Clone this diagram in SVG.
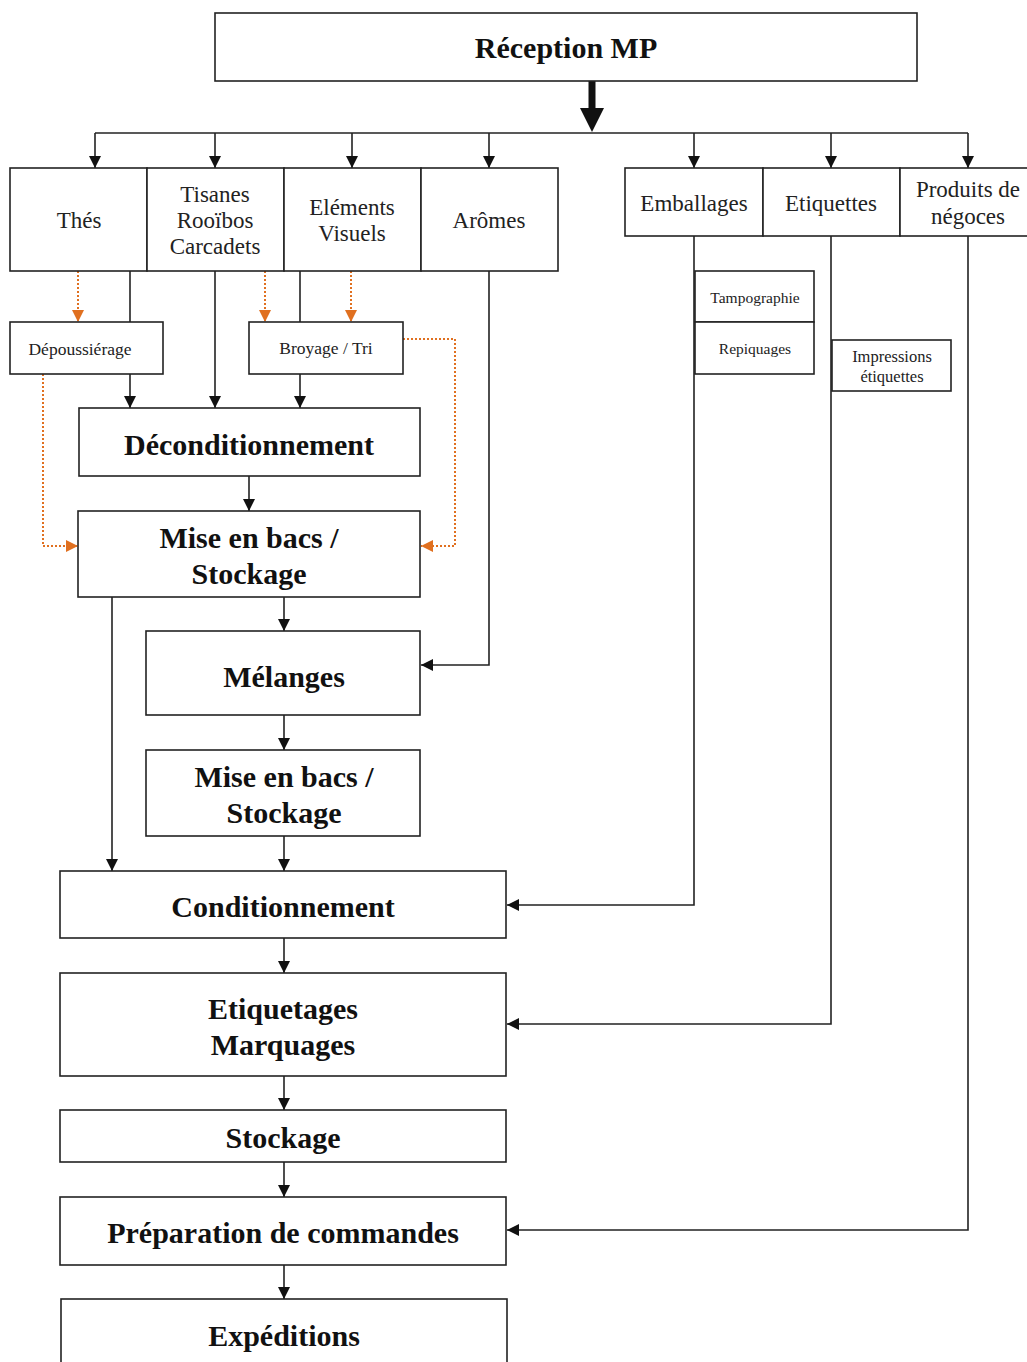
<svg xmlns="http://www.w3.org/2000/svg" width="1027" height="1362" viewBox="0 0 1027 1362">
<style>
.box{fill:#fff;stroke:#222;stroke-width:1.6}
.ln{fill:none;stroke:#222;stroke-width:1.6}
.or{fill:none;stroke:#E07020;stroke-width:2;stroke-dasharray:2 2}
.b{font-family:"Liberation Serif","Times New Roman",serif;font-weight:bold;font-size:30px;fill:#111;text-anchor:middle}
.r{font-family:"Times New Roman","Liberation Serif",serif;font-size:23px;fill:#222;text-anchor:middle}
.s{font-family:"Times New Roman","Liberation Serif",serif;font-size:17.5px;fill:#222;text-anchor:middle}
.m{font-family:"Times New Roman","Liberation Serif",serif;font-size:16.5px;fill:#222;text-anchor:middle}
.xs{font-family:"Times New Roman","Liberation Serif",serif;font-size:15.5px;fill:#222;text-anchor:middle}
</style>
<defs>
<marker id="a" viewBox="0 0 10 10" refX="10" refY="5" markerWidth="12" markerHeight="12" markerUnits="userSpaceOnUse" orient="auto"><path d="M0,0L10,5L0,10z" fill="#111"/></marker>
<marker id="o" viewBox="0 0 10 10" refX="10" refY="5" markerWidth="12" markerHeight="12" markerUnits="userSpaceOnUse" orient="auto"><path d="M0,0L10,5L0,10z" fill="#E07020"/></marker>
</defs>
<rect width="1027" height="1362" fill="#fff"/>
<g id="connectors">
<path d="M592,81V110" stroke="#111" stroke-width="7" fill="none"/>
<path d="M580,108H604L592,132z" fill="#111"/>
<path class="ln" d="M95,133H968"/>
<path class="ln" d="M95,133V168" marker-end="url(#a)"/>
<path class="ln" d="M215,133V168" marker-end="url(#a)"/>
<path class="ln" d="M352,133V168" marker-end="url(#a)"/>
<path class="ln" d="M489,133V168" marker-end="url(#a)"/>
<path class="ln" d="M694,133V168" marker-end="url(#a)"/>
<path class="ln" d="M831,133V168" marker-end="url(#a)"/>
<path class="ln" d="M968,133V168" marker-end="url(#a)"/>
<path class="ln" d="M130,271V322"/>
<path class="ln" d="M300,271V322"/>
<path class="or" d="M78,271V322" marker-end="url(#o)"/>
<path class="or" d="M265,271V322" marker-end="url(#o)"/>
<path class="or" d="M351,271V322" marker-end="url(#o)"/>
<path class="ln" d="M215,271V408" marker-end="url(#a)"/>
<path class="ln" d="M130,374V408" marker-end="url(#a)"/>
<path class="ln" d="M300,374V408" marker-end="url(#a)"/>
<path class="or" d="M43,374V546H78" marker-end="url(#o)"/>
<path class="or" d="M403,339H455V546H421" marker-end="url(#o)"/>
<path class="ln" d="M489,271V665H421" marker-end="url(#a)"/>
<path class="ln" d="M249,476V511" marker-end="url(#a)"/>
<path class="ln" d="M112,597V871" marker-end="url(#a)"/>
<path class="ln" d="M284,597V631" marker-end="url(#a)"/>
<path class="ln" d="M284,715V750" marker-end="url(#a)"/>
<path class="ln" d="M284,836V871" marker-end="url(#a)"/>
<path class="ln" d="M284,938V973" marker-end="url(#a)"/>
<path class="ln" d="M284,1076V1110" marker-end="url(#a)"/>
<path class="ln" d="M284,1162V1197" marker-end="url(#a)"/>
<path class="ln" d="M284,1265V1299" marker-end="url(#a)"/>
<path class="ln" d="M694,236V905H507" marker-end="url(#a)"/>
<path class="ln" d="M831,236V1024H507" marker-end="url(#a)"/>
<path class="ln" d="M968,236V1230H507" marker-end="url(#a)"/>
</g>
<g id="reception"><rect class="box" x="215" y="13" width="702" height="68"/><text class="b" x="566" y="58">Réception MP</text></g>
<g id="thes"><rect class="box" x="10" y="168" width="137" height="103"/><text class="r" x="79" y="228">Thés</text></g>
<g id="tisanes"><rect class="box" x="147" y="168" width="137" height="103"/><text class="r" x="215" y="202">Tisanes</text><text class="r" x="215" y="228">Rooïbos</text><text class="r" x="215" y="254">Carcadets</text></g>
<g id="elements"><rect class="box" x="284" y="168" width="137" height="103"/><text class="r" x="352" y="215">Eléments</text><text class="r" x="352" y="241">Visuels</text></g>
<g id="aromes"><rect class="box" x="421" y="168" width="137" height="103"/><text class="r" x="489" y="228">Arômes</text></g>
<g id="emballages"><rect class="box" x="625" y="168" width="138" height="68"/><text class="r" x="694" y="211">Emballages</text></g>
<g id="etiquettes"><rect class="box" x="763" y="168" width="137" height="68"/><text class="r" x="831" y="211">Etiquettes</text></g>
<g id="produits"><rect class="box" x="900" y="168" width="137" height="68"/><text class="r" x="968" y="197">Produits de</text><text class="r" x="968" y="224">négoces</text></g>
<g id="depoussierage"><rect class="box" x="10" y="322" width="153" height="52"/><text class="s" x="80" y="355">Dépoussiérage</text></g>
<g id="broyage"><rect class="box" x="249" y="322" width="154" height="52"/><text class="s" x="326" y="354">Broyage / Tri</text></g>
<g id="tampographie"><rect class="box" x="695" y="271" width="119" height="51"/><text class="xs" x="755" y="303">Tampographie</text></g>
<g id="repiquages"><rect class="box" x="695" y="322" width="119" height="52"/><text class="xs" x="755" y="354">Repiquages</text></g>
<g id="impressions"><rect class="box" x="832" y="340" width="119" height="51"/><text class="m" x="892" y="362">Impressions</text><text class="m" x="892" y="382">étiquettes</text></g>
<g id="deconditionnement"><rect class="box" x="79" y="408" width="341" height="68"/><text class="b" x="249" y="455">Déconditionnement</text></g>
<g id="miseenbacs1"><rect class="box" x="78" y="511" width="342" height="86"/><text class="b" x="249" y="548">Mise en bacs /</text><text class="b" x="249" y="584">Stockage</text></g>
<g id="melanges"><rect class="box" x="146" y="631" width="274" height="84"/><text class="b" x="284" y="687">Mélanges</text></g>
<g id="miseenbacs2"><rect class="box" x="146" y="750" width="274" height="86"/><text class="b" x="284" y="787">Mise en bacs /</text><text class="b" x="284" y="823">Stockage</text></g>
<g id="conditionnement"><rect class="box" x="60" y="871" width="446" height="67"/><text class="b" x="283" y="917">Conditionnement</text></g>
<g id="etiquetages"><rect class="box" x="60" y="973" width="446" height="103"/><text class="b" x="283" y="1019">Etiquetages</text><text class="b" x="283" y="1055">Marquages</text></g>
<g id="stockage"><rect class="box" x="60" y="1110" width="446" height="52"/><text class="b" x="283" y="1148">Stockage</text></g>
<g id="preparation"><rect class="box" x="60" y="1197" width="446" height="68"/><text class="b" x="283" y="1243">Préparation de commandes</text></g>
<g id="expeditions"><rect class="box" x="61" y="1299" width="446" height="80"/><text class="b" x="284" y="1346">Expéditions</text></g>
</svg>
